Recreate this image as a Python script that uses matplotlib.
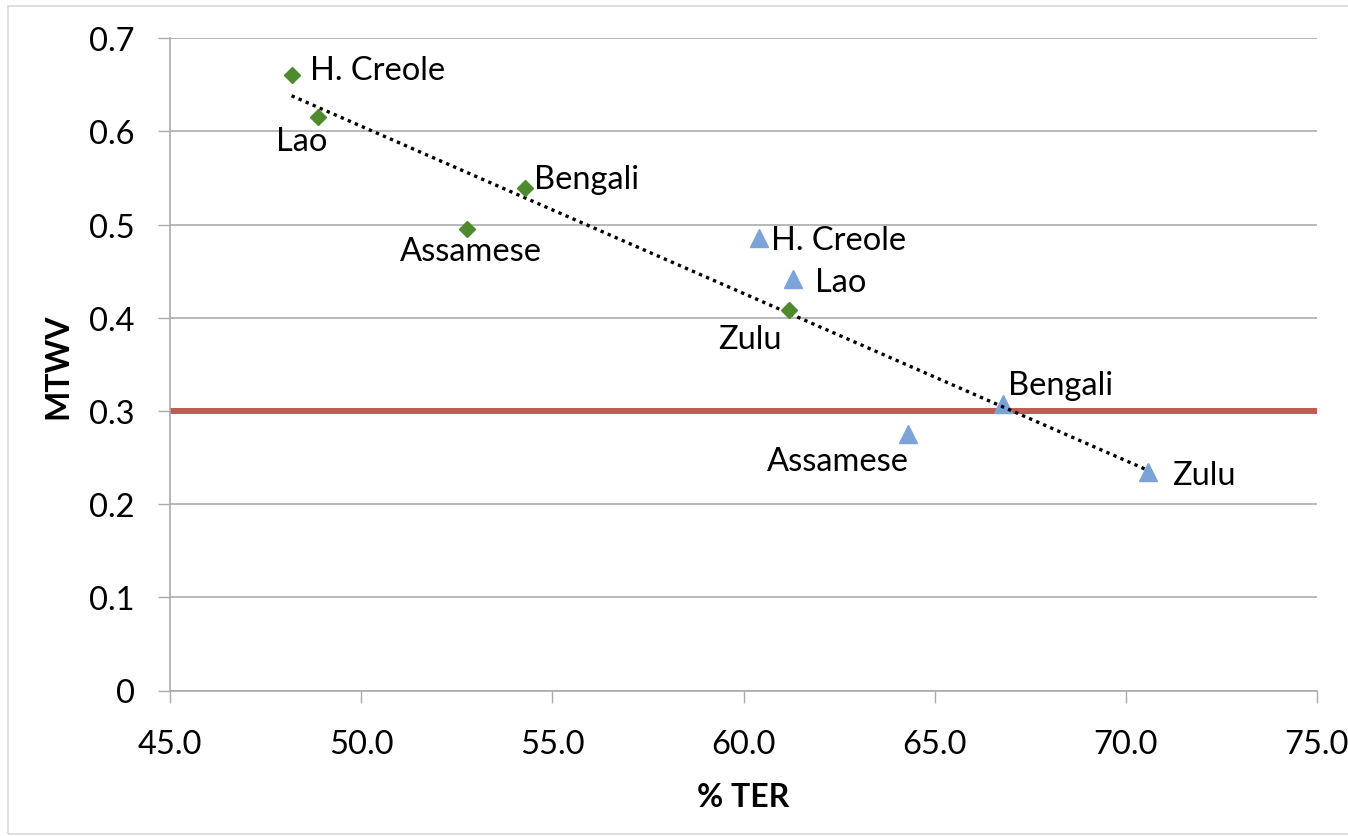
import numpy as np
import matplotlib
matplotlib.use("Agg")
import matplotlib.pyplot as plt
from matplotlib.patches import Rectangle

plt.rcParams['font.family'] = ['Lato', 'DejaVu Sans']

# ---- data ----
languages = ["H. Creole", "Lao", "Bengali", "Assamese", "Zulu"]
green_ter = [48.18, 48.87, 54.29, 52.77, 61.19]
green_mtwv = [0.661, 0.616, 0.539, 0.495, 0.408]
blue_ter = [60.41, 61.30, 66.79, 64.30, 70.58]
blue_mtwv = [0.486, 0.442, 0.308, 0.275, 0.235]
threshold = 0.3
x_ticks = [45, 50, 55, 60, 65, 70, 75]
y_ticks = [0, 0.1, 0.2, 0.3, 0.4, 0.5, 0.6, 0.7]

# label offsets in pixels (dx right, dy up) and horizontal alignment
green_offsets = [(18, 5, 'left'), (-16, -24, 'center'), (9, 9, 'left'),
                 (4, -22, 'center'), (-39, -29, 'center')]
blue_offsets = [(12, -2, 'left'), (22, -3, 'left'), (5, 19, 'left'),
                (-70, -27, 'center'), (24, -3, 'left')]

W, H, DPI = 1348, 837, 100
fig = plt.figure(figsize=(W / DPI, H / DPI), dpi=DPI)
ax = fig.add_axes([170 / W, 1 - 691.5 / H, (1317 - 170) / W, (691.5 - 39.3) / H])

grid_c = '#ABABAB'
green_c = '#4F8B2C'
blue_c = '#7BA3D8'
red_c = '#BE5B55'
fs = 23.5

ax.set_xlim(45, 75)
ax.set_ylim(0, 0.7)
ax.set_xticks(x_ticks)
ax.set_yticks(y_ticks)
ax.set_xticklabels([f"{v:.1f}" for v in x_ticks])
ax.set_yticklabels(["0" if v == 0 else f"{v:.1f}" for v in y_ticks])
ax.yaxis.grid(True, color=grid_c, linewidth=1.2)
ax.set_axisbelow(True)
for s in ['top', 'right']:
    ax.spines[s].set_visible(False)
for s in ['left', 'bottom']:
    ax.spines[s].set_color(grid_c)
    ax.spines[s].set_linewidth(1.2)
ax.tick_params(axis='both', direction='out', length=8.5, width=1.0, color=grid_c,
               labelsize=fs, labelcolor='black')
ax.tick_params(axis='y', pad=17)
ax.tick_params(axis='x', pad=19)

# threshold line
ax.axhline(threshold, color=red_c, linewidth=4.3, zorder=2)

# trendline: linear fit over all points
all_x = np.array(green_ter + blue_ter)
all_y = np.array(green_mtwv + blue_mtwv)
slope, intercept = np.polyfit(all_x, all_y, 1)
tx = np.array([all_x.min(), all_x.max()])
ax.plot(tx, slope * tx + intercept, color='black', linestyle=(0, (1, 1.3)),
        linewidth=2.4, zorder=4)

ax.plot(green_ter, green_mtwv, linestyle='none', marker='D', markersize=8.5,
        color=green_c, zorder=5, clip_on=False)
ax.plot(blue_ter, blue_mtwv, linestyle='none', marker='^', markersize=13,
        color=blue_c, zorder=3, clip_on=False)

k = 72.0 / DPI
for name, x, y, (dx, dy, ha) in zip(languages, green_ter, green_mtwv, green_offsets):
    ax.annotate(name, (x, y), xytext=(dx * k, dy * k), textcoords='offset points',
                ha=ha, va='center', fontsize=fs, color='black', zorder=6)
for name, x, y, (dx, dy, ha) in zip(languages, blue_ter, blue_mtwv, blue_offsets):
    ax.annotate(name, (x, y), xytext=(dx * k, dy * k), textcoords='offset points',
                ha=ha, va='center', fontsize=fs, color='black', zorder=6)

fig.text(58 / W, 1 - 366 / H, "MTWV", rotation=90, fontsize=23, fontweight='bold',
         ha='center', va='center')
fig.text(743 / W, 1 - 798 / H, "% TER", fontsize=23, fontweight='bold',
         ha='center', va='center')

# outer chart border
fig.patches.append(Rectangle((8 / W, 1 - 835 / H), 1.2, (835 - 7) / H,
                             transform=fig.transFigure, fill=False,
                             edgecolor='#D9D9D9', linewidth=1.2))

fig.savefig("out.png", dpi=DPI)
